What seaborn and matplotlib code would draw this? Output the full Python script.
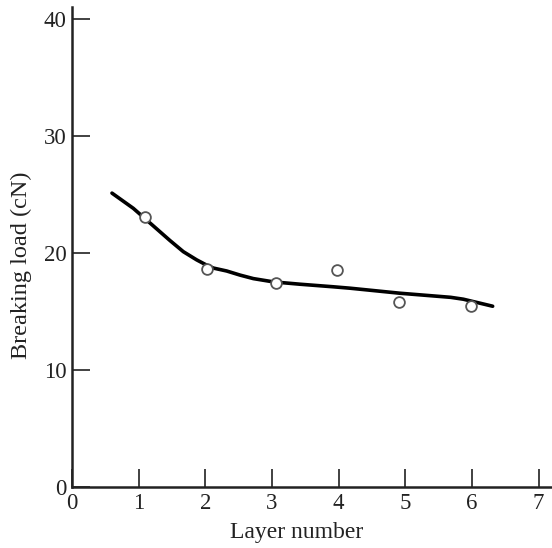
import matplotlib
matplotlib.use("Agg")
import matplotlib.pyplot as plt
import seaborn as sns
import pandas as pd

# measured points (open circles)
layer = [1.09, 2.03, 3.06, 3.97, 4.91, 5.99]
load = [23.1, 18.65, 17.45, 18.5, 15.8, 15.5]

# fitted curve
curve_x = [0.60, 0.92, 1.07, 1.27, 1.47, 1.67, 1.87, 2.02, 2.12, 2.32, 2.52, 2.72,
           3.02, 3.42, 3.92, 4.17, 4.92, 5.68, 5.87, 6.31]
curve_y = [25.1, 23.8, 23.05, 22.05, 21.05, 20.1, 19.4, 18.95, 18.7, 18.45, 18.1, 17.8,
           17.52, 17.32, 17.1, 16.98, 16.55, 16.2, 16.04, 15.44]

x_ticks = [0, 1, 2, 3, 4, 5, 6, 7]
y_ticks = [0, 10, 20, 30, 40]

sns.set_style("ticks")
plt.rcParams['font.family'] = ['Liberation Serif', 'DejaVu Serif']

fig = plt.figure(figsize=(5.52, 5.48), dpi=100)
ax = fig.add_axes([0.1304, 0.1113, 0.8696, 0.876])

df_curve = pd.DataFrame({"x": curve_x, "y": curve_y})
df_pts = pd.DataFrame({"x": layer, "y": load})

sns.lineplot(data=df_curve, x="x", y="y", ax=ax, color="black", linewidth=2.6,
             sort=False, estimator=None)
sns.scatterplot(data=df_pts, x="x", y="y", ax=ax, s=60, facecolor="white",
                edgecolor="#555555", linewidth=1.3, zorder=3)

ax.set_xlim(0, 7.2)
ax.set_ylim(0, 41)
ax.set_xticks(x_ticks)
ax.set_yticks(y_ticks)
ax.tick_params(direction="in", length=13, width=1.3, color="#333333",
               labelsize=16.5, labelcolor="#222222", pad=4)
for s in ["top", "right"]:
    ax.spines[s].set_visible(False)
for s in ["left", "bottom"]:
    ax.spines[s].set_linewidth(1.8)
    ax.spines[s].set_color("#222222")

ax.set_xlabel("Layer number", fontsize=17, color="#222222")
ax.set_ylabel("Breaking load (cN)", fontsize=17.5, color="#222222")
ax.xaxis.set_label_coords(0.469, -0.072)
ax.yaxis.set_label_coords(-0.084, 0.4625)

fig.savefig("out.png", dpi=100)
